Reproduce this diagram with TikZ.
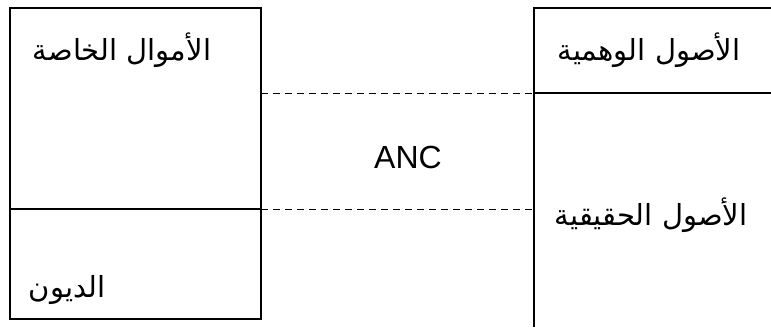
\documentclass[tikz,border=0pt]{standalone}
\usepackage{fontspec}
\setmainfont{Liberation Sans}
\newfontfamily\arabicfont[Script=Arabic]{DejaVu Sans}
\TeXXeTstate=1
\begin{document}
\begin{tikzpicture}[x=1pt,y=-1pt,
  boxline/.style={line width=1.5pt, black},
  dashline/.style={line width=1pt, dash pattern=on 7pt off 5pt},
  artext/.style={inner sep=0pt, font=\arabicfont\fontsize{29}{34}\selectfont},
  latext/.style={inner sep=0pt, font=\fontsize{32}{36}\selectfont}]
\useasboundingbox (0,0) rectangle (771,327);
% left box
\coordinate (L1) at (10,8);
\coordinate (L2) at (261,8);
\coordinate (L3) at (261,319);
\coordinate (L4) at (10,319);
\coordinate (LM1) at (10,209);
\coordinate (LM2) at (261,209);
\coordinate (LD1) at (261,93);
% right box
\coordinate (R1) at (534,8);
\coordinate (R2) at (771,8);
\coordinate (R3) at (534,327);
\coordinate (RM1) at (534,93);
\coordinate (RM2) at (771,93);
\coordinate (RD2) at (534,209);
\draw[boxline] (L1) -- (L2) -- (L3) -- (L4) -- cycle;
\draw[boxline] (LM1) -- (LM2);
\draw[boxline] (R2) -- (R1) -- (R3);
\draw[boxline] (RM1) -- (RM2);
\draw[dashline] (LD1) -- (RM1);
\draw[dashline] (LM2) -- (RD2);
\node[artext] (own) at (122,50) {\beginR الأموال الخاصة\endR};
\node[artext] (debt) at (67,290) {\beginR الديون\endR};
\node[artext] (fict) at (649,50) {\beginR الأصول الوهمية\endR};
\node[artext] (real) at (651,215) {\beginR الأصول الحقيقية\endR};
\node[latext] (anc) at (408,157) {ANC};
\end{tikzpicture}
\end{document}
